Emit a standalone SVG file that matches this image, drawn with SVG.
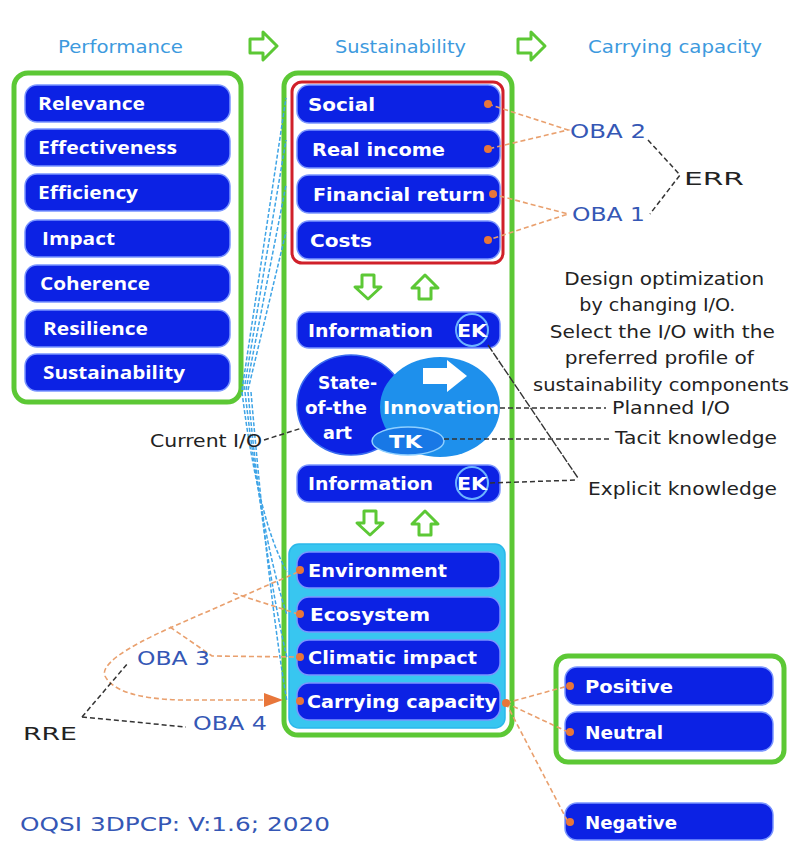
<svg xmlns="http://www.w3.org/2000/svg" width="792" height="846" viewBox="0 0 792 846">
<defs>
<style>
.panel{fill:#fff;stroke:#5cc835;stroke-width:5}
.box{fill:#0c22e4;stroke:#7a95ff;stroke-width:1.5}
.t{fill:#fff;font-family:"DejaVu Sans",sans-serif;font-weight:bold;font-size:18px}
.tl{fill:#fff;font-family:"Open Sans","DejaVu Sans",sans-serif;font-weight:bold;font-size:18px}
.hdr{fill:#3d9ade;font-family:"DejaVu Sans",sans-serif;font-size:17px}
.oba{fill:#3557b5;font-family:"DejaVu Sans",sans-serif;font-size:20px}
.blk{fill:#222;font-family:"DejaVu Sans",sans-serif;font-size:17px}
.garrow{fill:#fff;stroke:#5cc835;stroke-width:3;stroke-linejoin:round}
.dot{fill:#e8763a}
.od{fill:none;stroke:#e9a06e;stroke-width:1.6;stroke-dasharray:5 3}
.bd{fill:none;stroke:#333;stroke-width:1.5;stroke-dasharray:5 3}
.cd{fill:none;stroke:#3fa4e6;stroke-width:1.5;stroke-dasharray:4 2}
</style>
</defs>
<rect width="792" height="846" fill="#fff"/>

<g id="header">
<text class="hdr" x="58" y="53" textLength="125" lengthAdjust="spacingAndGlyphs">Performance</text>
<polygon class="garrow" points="250,39 263,39 263,32 277,46 263,60 263,53 250,53"/>
<text class="hdr" x="335" y="53" textLength="131" lengthAdjust="spacingAndGlyphs">Sustainability</text>
<polygon class="garrow" points="518,39 531,39 531,32 545,46 531,60 531,53 518,53"/>
<text class="hdr" x="588" y="53" textLength="174" lengthAdjust="spacingAndGlyphs">Carrying capacity</text>
</g>

<g id="performance">
<rect class="panel" x="14" y="73" width="227" height="329" rx="14"/>
<rect class="box" x="25" y="85" width="205" height="37" rx="12"/>
<text class="tl" x="38" y="110" textLength="107" lengthAdjust="spacingAndGlyphs">Relevance</text>
<rect class="box" x="25" y="129" width="205" height="37" rx="12"/>
<text class="tl" x="38" y="154" textLength="139" lengthAdjust="spacingAndGlyphs">Effectiveness</text>
<rect class="box" x="25" y="174" width="205" height="37" rx="12"/>
<text class="tl" x="38" y="199" textLength="100" lengthAdjust="spacingAndGlyphs">Efficiency</text>
<rect class="box" x="25" y="220" width="205" height="37" rx="12"/>
<text class="tl" x="42" y="245" textLength="73" lengthAdjust="spacingAndGlyphs">Impact</text>
<rect class="box" x="25" y="265" width="205" height="37" rx="12"/>
<text class="tl" x="40" y="290" textLength="110" lengthAdjust="spacingAndGlyphs">Coherence</text>
<rect class="box" x="25" y="310" width="205" height="37" rx="12"/>
<text class="tl" x="43" y="335" textLength="105" lengthAdjust="spacingAndGlyphs">Resilience</text>
<rect class="box" x="25" y="354" width="205" height="37" rx="12"/>
<text class="tl" x="43" y="379" textLength="142" lengthAdjust="spacingAndGlyphs">Sustainability</text>
</g>

<g id="sustainability">
<rect class="panel" x="284" y="73" width="228" height="662" rx="14"/>
<rect x="292" y="82" width="211" height="181" rx="10" fill="#fff" stroke="#d0202a" stroke-width="3"/>
<rect class="box" x="297" y="85" width="203" height="38" rx="12"/>
<text class="t" x="308" y="111" textLength="67" lengthAdjust="spacingAndGlyphs">Social</text>
<rect class="box" x="297" y="130" width="203" height="38" rx="12"/>
<text class="t" x="312" y="156" textLength="133" lengthAdjust="spacingAndGlyphs">Real income</text>
<rect class="box" x="297" y="175" width="203" height="38" rx="12"/>
<text class="t" x="313" y="201" textLength="172" lengthAdjust="spacingAndGlyphs">Financial return</text>
<rect class="box" x="297" y="221" width="203" height="38" rx="12"/>
<text class="t" x="310" y="247" textLength="62" lengthAdjust="spacingAndGlyphs">Costs</text>

<polygon class="garrow" points="362,275 374,275 374,287 381,287 368,299 355,287 362,287"/>
<polygon class="garrow" points="425,275 438,288 431,288 431,299 419,299 419,288 412,288"/>

<rect class="box" x="297" y="312" width="203" height="36" rx="12"/>
<text class="t" x="308" y="337" textLength="125" lengthAdjust="spacingAndGlyphs">Information</text>
<circle cx="472" cy="330" r="16" fill="#0c22e4" stroke="#6cb4ff" stroke-width="2"/>
<text class="t" x="457" y="337" textLength="30" lengthAdjust="spacingAndGlyphs">EK</text>

<ellipse cx="351" cy="405" rx="54" ry="50" fill="#0c22e4" stroke="#3a6cf0" stroke-width="1.5"/>
<ellipse cx="440" cy="407" rx="60" ry="50" fill="#1e90ec"/>
<ellipse cx="408" cy="441" rx="36" ry="14" fill="#1878e6" stroke="#8fd0ff" stroke-width="1.5"/>
<polygon points="423,368 447,368 447,360 467,376 447,392 447,384 423,384" fill="#fff"/>
<text class="t" x="318" y="389" textLength="59" lengthAdjust="spacingAndGlyphs">State-</text>
<text class="t" x="305" y="414" textLength="62" lengthAdjust="spacingAndGlyphs">of-the</text>
<text class="t" x="323" y="439" textLength="29" lengthAdjust="spacingAndGlyphs">art</text>
<text class="t" x="383" y="414" textLength="116" lengthAdjust="spacingAndGlyphs">Innovation</text>
<text class="t" x="389" y="448" textLength="33" lengthAdjust="spacingAndGlyphs">TK</text>

<rect class="box" x="297" y="465" width="203" height="37" rx="12"/>
<text class="t" x="308" y="490" textLength="125" lengthAdjust="spacingAndGlyphs">Information</text>
<circle cx="472" cy="483" r="16" fill="#0c22e4" stroke="#6cb4ff" stroke-width="2"/>
<text class="t" x="457" y="490" textLength="30" lengthAdjust="spacingAndGlyphs">EK</text>

<polygon class="garrow" points="364,511 376,511 376,523 383,523 370,535 357,523 364,523"/>
<polygon class="garrow" points="425,511 438,524 431,524 431,535 419,535 419,524 412,524"/>

<rect x="289" y="544" width="216" height="184" rx="10" fill="#38c6f0" stroke="#2ab8ea" stroke-width="1.5"/>
<rect class="box" x="297" y="552" width="203" height="36" rx="12"/>
<text class="t" x="308" y="577" textLength="139" lengthAdjust="spacingAndGlyphs">Environment</text>
<rect class="box" x="297" y="597" width="203" height="35" rx="12"/>
<text class="t" x="310" y="621" textLength="120" lengthAdjust="spacingAndGlyphs">Ecosystem</text>
<rect class="box" x="297" y="640" width="203" height="35" rx="12"/>
<text class="t" x="308" y="664" textLength="169" lengthAdjust="spacingAndGlyphs">Climatic impact</text>
<rect class="box" x="297" y="683" width="203" height="37" rx="12"/>
<text class="t" x="307" y="708" textLength="190" lengthAdjust="spacingAndGlyphs">Carrying capacity</text>
</g>

<g id="outcomes">
<rect class="panel" x="556" y="656" width="228" height="106" rx="12"/>
<rect class="box" x="565" y="667" width="208" height="38" rx="12"/>
<text class="t" x="585" y="693" textLength="88" lengthAdjust="spacingAndGlyphs">Positive</text>
<rect class="box" x="565" y="712" width="208" height="39" rx="12"/>
<text class="t" x="585" y="739" textLength="78" lengthAdjust="spacingAndGlyphs">Neutral</text>
</g>

<g id="negative">
<rect class="box" x="565" y="803" width="208" height="37" rx="12"/>
<text class="t" x="585" y="829" textLength="92" lengthAdjust="spacingAndGlyphs">Negative</text>
</g>

<g id="connectors">
<path class="cd" d="M242,390 L286,98"/>
<path class="cd" d="M244,390 L286,140"/>
<path class="cd" d="M246,390 L286,185"/>
<path class="cd" d="M248,390 L286,232"/>
<path class="cd" d="M242,392 Q258,520 287,572"/>
<path class="cd" d="M245,392 Q262,540 287,615"/>
<path class="cd" d="M248,392 Q264,560 287,658"/>
<path class="cd" d="M251,392 Q268,590 287,702"/>
<path class="od" d="M488,104 L568,130 L488,149"/>
<path class="od" d="M492,194 L568,214 L488,240"/>
<path class="bd" d="M648,140 L680,175 L650,214"/>
<path class="bd" d="M500,408 L606,408"/>
<path class="bd" d="M444,439 L609,439"/>
<path class="bd" d="M490,483 L578,480"/>
<path fill="none" stroke="#333" stroke-width="1.4" stroke-dasharray="8 1.5" d="M488,345 L578,478"/>
<path class="bd" d="M264,440 L302,428"/>
<path class="od" d="M298,572 L172,627 Q98,660 105,676 Q116,698 180,700 L266,700"/>
<polygon points="264,693 283,700 264,707" fill="#e8763a"/>
<path class="od" d="M233,593 L298,614"/>
<path class="od" d="M170,627 L212,656 L298,657"/>
<path class="bd" d="M82,717 L128,663"/>
<path class="bd" d="M82,717 L186,727"/>
<path class="od" d="M506,703 L568,686"/>
<path class="od" d="M506,703 L568,732"/>
<path class="od" d="M506,703 L568,822"/>
<circle class="dot" cx="488" cy="104" r="4"/>
<circle class="dot" cx="488" cy="149" r="4"/>
<circle class="dot" cx="493" cy="194" r="4"/>
<circle class="dot" cx="488" cy="240" r="4"/>
<circle class="dot" cx="300" cy="570" r="4"/>
<circle class="dot" cx="300" cy="614" r="4"/>
<circle class="dot" cx="300" cy="657" r="4"/>
<circle class="dot" cx="300" cy="701" r="4"/>
<circle class="dot" cx="506" cy="703" r="4"/>
<circle class="dot" cx="570" cy="686" r="4"/>
<circle class="dot" cx="570" cy="732" r="4"/>
<circle class="dot" cx="570" cy="822" r="4"/>
</g>

<g id="labels">
<text class="oba" x="570" y="138" textLength="76" lengthAdjust="spacingAndGlyphs">OBA 2</text>
<text class="oba" x="572" y="221" textLength="73" lengthAdjust="spacingAndGlyphs">OBA 1</text>
<text class="blk" x="684" y="185" font-size="21" textLength="60" lengthAdjust="spacingAndGlyphs">ERR</text>
<text class="blk" text-anchor="middle">
<tspan x="667" y="285" textLength="200" lengthAdjust="spacingAndGlyphs">Design optimization</tspan>
<tspan x="660" y="311" textLength="156" lengthAdjust="spacingAndGlyphs">by changing I/O.</tspan>
<tspan x="665" y="338" textLength="225" lengthAdjust="spacingAndGlyphs">Select the I/O with the</tspan>
<tspan x="662" y="364" textLength="189" lengthAdjust="spacingAndGlyphs">preferred profile of</tspan>
<tspan x="661" y="391" textLength="256" lengthAdjust="spacingAndGlyphs">sustainability components</tspan>
</text>
<text class="blk" x="612" y="414" textLength="118" lengthAdjust="spacingAndGlyphs">Planned I/O</text>
<text class="blk" x="615" y="444" textLength="162" lengthAdjust="spacingAndGlyphs">Tacit knowledge</text>
<text class="blk" x="588" y="495" textLength="189" lengthAdjust="spacingAndGlyphs">Explicit knowledge</text>
<text class="blk" x="150" y="447" textLength="112" lengthAdjust="spacingAndGlyphs">Current I/O</text>
<text class="oba" x="137" y="665" textLength="73" lengthAdjust="spacingAndGlyphs">OBA 3</text>
<text class="oba" x="193" y="730" textLength="74" lengthAdjust="spacingAndGlyphs">OBA 4</text>
<text class="blk" x="23" y="740" font-size="21" textLength="54" lengthAdjust="spacingAndGlyphs">RRE</text>
<text class="oba" x="20" y="831" font-size="21" textLength="310" lengthAdjust="spacingAndGlyphs">OQSI 3DPCP: V:1.6; 2020</text>
</g>
</svg>
